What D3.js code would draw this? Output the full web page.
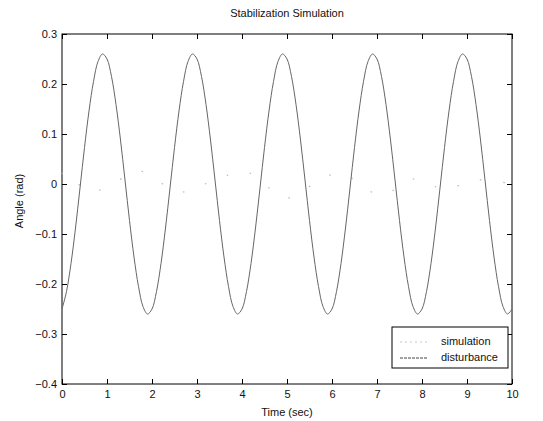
<!DOCTYPE html>
<html>
<head>
<meta charset="utf-8">
<script src="https://cdn.jsdelivr.net/npm/d3@7/dist/d3.min.js"></script>
<style>
  body { margin: 0; background: #fff; }
  svg text { font-family: "Liberation Sans", Arial, sans-serif; fill: #111; }
</style>
</head>
<body>
<svg id="chart" width="543" height="421"></svg>
<script>
// Axis ticks
const xTicks = [0, 1, 2, 3, 4, 5, 6, 7, 8, 9, 10];
const yTicks = [-0.4, -0.3, -0.2, -0.1, 0, 0.1, 0.2, 0.3];

// Disturbance angle (rad), sampled every 0.1 s from 0 to 10 s
const distStep = 0.1;
const disturbance = [
  -0.250, -0.215, -0.159, -0.088, -0.008, 0.073, 0.146, 0.205, 0.245, 0.260,
   0.250,  0.215,  0.159,  0.088,  0.008, -0.073, -0.146, -0.205, -0.245, -0.260,
  -0.250, -0.215, -0.159, -0.088, -0.008, 0.073, 0.146, 0.205, 0.245, 0.260,
   0.250,  0.215,  0.159,  0.088,  0.008, -0.073, -0.146, -0.205, -0.245, -0.260,
  -0.250, -0.215, -0.159, -0.088, -0.008, 0.073, 0.146, 0.205, 0.245, 0.260,
   0.250,  0.215,  0.159,  0.088,  0.008, -0.073, -0.146, -0.205, -0.245, -0.260,
  -0.250, -0.215, -0.159, -0.088, -0.008, 0.073, 0.146, 0.205, 0.245, 0.260,
   0.250,  0.215,  0.159,  0.088,  0.008, -0.073, -0.146, -0.205, -0.245, -0.260,
  -0.250, -0.215, -0.159, -0.088, -0.008, 0.073, 0.146, 0.205, 0.245, 0.260,
   0.250,  0.215,  0.159,  0.088,  0.008, -0.073, -0.146, -0.205, -0.245, -0.260,
  -0.250
];

// Simulated (stabilized) angle: small residual oscillation around zero
const simTime  = [0, 0.06, 0.62, 1.2, 1.72, 2.6, 3.3, 4.09, 4.97, 5.6, 6.17, 7.09, 7.8, 8.5, 9.2, 10];
const simAngle = [0.02, 0.026, -0.016, 0.005, 0.026, -0.016, 0.004, 0.024, -0.028, 0.0, 0.022, -0.022, 0.01, -0.01, 0.008, 0.0];

const seriesNames = ["simulation", "disturbance"];

const svg = d3.select("#chart");
const W = 543, H = 421;
const margin = { left: 62, right: 31, top: 34, bottom: 37 };
const iw = W - margin.left - margin.right;
const ih = H - margin.top - margin.bottom;

const x = d3.scaleLinear().domain([0, 10]).range([0, iw]);
const y = d3.scaleLinear().domain([-0.4, 0.3]).range([ih, 0]);

const g = svg.append("g").attr("transform", `translate(${margin.left},${margin.top})`);

const fmtY = d => (d === 0 ? "0" : d3.format(".1f")(d));

// Axes with inward ticks on all four sides
const axB = g.append("g").attr("transform", `translate(0,${ih})`)
  .call(d3.axisBottom(x).tickValues(xTicks).tickFormat(d3.format("d")).tickSizeInner(-5).tickSizeOuter(0).tickPadding(6));
const axT = g.append("g")
  .call(d3.axisTop(x).tickValues(xTicks).tickFormat("").tickSizeInner(-5).tickSizeOuter(0));
const axL = g.append("g")
  .call(d3.axisLeft(y).tickValues(yTicks).tickFormat(fmtY).tickSizeInner(-5).tickSizeOuter(0).tickPadding(5));
const axR = g.append("g").attr("transform", `translate(${iw},0)`)
  .call(d3.axisRight(y).tickValues(yTicks).tickFormat("").tickSizeInner(-5).tickSizeOuter(0));

[axB, axT, axL, axR].forEach(a => {
  a.select(".domain").remove();
  a.selectAll("line").attr("stroke", "#000");
  a.selectAll("text").style("font-size", "11px").attr("fill", "#111");
});

// Plot box
g.append("rect").attr("x", 0).attr("y", 0).attr("width", iw).attr("height", ih)
  .attr("fill", "none").attr("stroke", "#000").attr("stroke-width", 1);

// Simulation trace
const simData = simTime.map((t, i) => [t, simAngle[i]]);
g.append("path")
  .datum(simData)
  .attr("fill", "none")
  .attr("stroke", "#b8b8b8")
  .attr("stroke-width", 1.2)
  .attr("stroke-dasharray", "1.5,22")
  .attr("d", d3.line().x(d => x(d[0])).y(d => y(d[1])).curve(d3.curveCatmullRom));

// Disturbance trace
const distData = disturbance.map((v, i) => [i * distStep, v]);
g.append("path")
  .datum(distData)
  .attr("fill", "none")
  .attr("stroke", "#666")
  .attr("stroke-width", 1)
  .attr("d", d3.line().x(d => x(d[0])).y(d => y(d[1])).curve(d3.curveCatmullRom));

// Title and axis labels
svg.append("text").attr("x", margin.left + iw / 2).attr("y", 17)
  .attr("text-anchor", "middle").style("font-size", "11px").text("Stabilization Simulation");
svg.append("text").attr("x", margin.left + iw / 2).attr("y", 416)
  .attr("text-anchor", "middle").style("font-size", "11px").text("Time (sec)");
svg.append("text").attr("transform", `translate(23,${margin.top + ih / 2 - 8}) rotate(-90)`)
  .attr("text-anchor", "middle").style("font-size", "11px").text("Angle (rad)");

// Legend
const lg = svg.append("g").attr("transform", "translate(392,327)");
lg.append("rect").attr("width", 116).attr("height", 41)
  .attr("fill", "#fff").attr("stroke", "#000").attr("stroke-width", 1);
const legendStyles = [
  { stroke: "#c8c8c8", dash: "2,3" },
  { stroke: "#444", dash: "3,1" }
];
seriesNames.forEach((name, i) => {
  const yy = 14 + i * 16;
  lg.append("line").attr("x1", 8).attr("x2", 36).attr("y1", yy + 1).attr("y2", yy + 1)
    .attr("stroke", legendStyles[i].stroke).attr("stroke-dasharray", legendStyles[i].dash);
  lg.append("text").attr("x", 49).attr("y", yy + 4).style("font-size", "11px").text(name);
});
</script>
</body>
</html>
